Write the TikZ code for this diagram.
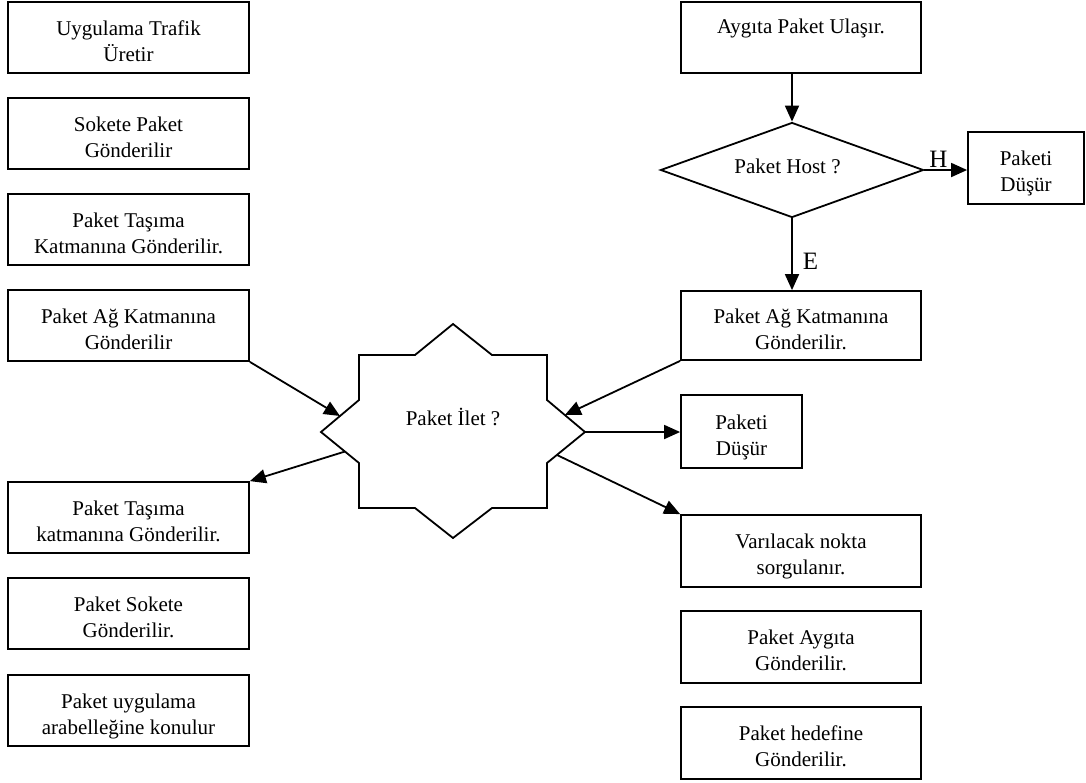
\documentclass[tikz,border=0pt]{standalone}
\usepackage{fontspec}
\setmainfont{Liberation Serif}
\usetikzlibrary{arrows.meta,shapes.geometric,calc}

\begin{document}
\begin{tikzpicture}[x=1pt,y=-1pt,
  every node/.style={font=\fontsize{21}{26}\selectfont},
  % two-line labels: box height fixed so the last baseline sits 23.5pt below centre
  box/.style={draw, line width=1.8pt, align=center, inner sep=0pt,
              text height=47pt, text depth=0pt,
              minimum width=241pt, minimum height=71pt},
  oneline/.style={text height=15pt, text depth=24pt},
  conn/.style={line width=1.8pt, -{Triangle[length=16pt,width=14pt]}},
  lbl/.style={font=\fontsize{25}{28}\selectfont, inner sep=0pt}]

\useasboundingbox (0,0) rectangle (1086,782);

% sending side (left column)
\node[box] (l1) at (128.5,37.5)  {Uygulama Trafik\\Üretir};
\node[box] (l2) at (128.5,133.5) {Sokete Paket\\Gönderilir};
\node[box] (l3) at (128.5,229.5) {Paket Taşıma\\Katmanına Gönderilir.};
\node[box] (l4) at (128.5,325.5) {Paket Ağ Katmanına\\Gönderilir};
\node[box] (l5) at (128.5,517.5) {Paket Taşıma\\katmanına Gönderilir.};
\node[box] (l6) at (128.5,613.5) {Paket Sokete\\Gönderilir.};
\node[box] (l7) at (128.5,710.5) {Paket uygulama\\arabelleğine konulur};

% receiving side (right column)
\node[box, oneline, minimum width=240pt] (r0) at (801,37.5) {Aygıta Paket Ulaşır.};
\node[draw, diamond, line width=1.8pt, shape aspect=2.77, inner sep=0pt,
      minimum width=263pt, minimum height=95pt] (dia) at (792,170) {};
\node (host) at (787.5,166) {Paket Host ?};
\node[box, minimum width=116pt, minimum height=72pt] (d1) at (1026,168) {Paketi\\Düşür};
\node[box, minimum width=240pt, minimum height=69pt] (r3) at (801,325.5) {Paket Ağ Katmanına\\Gönderilir.};
\node[box, minimum width=121pt, minimum height=73pt] (d2) at (741.5,431.5) {Paketi\\Düşür};
\node[box, minimum width=240pt, minimum height=72pt] (r4) at (801,551) {Varılacak nokta\\sorgulanır.};
\node[box, minimum width=240pt, minimum height=72pt] (r5) at (801,647) {Paket Aygıta\\Gönderilir.};
\node[box, minimum width=240pt, minimum height=72pt] (r6) at (801,743) {Paket hedefine\\Gönderilir.};

% eight-pointed star for the forwarding decision
\coordinate (sT)  at (453,324);
\coordinate (sTR) at (492,355);
\coordinate (cNE) at (547,355);
\coordinate (sRU) at (547,400);
\coordinate (sR)  at (585,432);
\coordinate (sRD) at (547,463);
\coordinate (cSE) at (547,508);
\coordinate (sBR) at (492,508);
\coordinate (sB)  at (453,538);
\coordinate (sBL) at (415,508);
\coordinate (cSW) at (359,508);
\coordinate (sLD) at (359,463);
\coordinate (sL)  at (321,432);
\coordinate (sLU) at (359,400);
\coordinate (cNW) at (359,355);
\coordinate (sTL) at (415,355);
\draw[line width=1.8pt, line join=miter]
  (sT) -- (sTR) -- (cNE) -- (sRU) -- (sR) -- (sRD) -- (cSE) -- (sBR) --
  (sB) -- (sBL) -- (cSW) -- (sLD) -- (sL) -- (sLU) -- (cNW) -- (sTL) -- cycle;
\node (ilet) at (453,417) {Paket İlet ?};

% connection points on the star outline
\coordinate (inL)  at ($(sL)!0.5!(sLU)$);
\coordinate (inR)  at ($(sRU)!0.47!(sR)$);
\coordinate (outL) at ($(sLD)!0.37!(sL)$);
\coordinate (outR) at ($(sR)!0.74!(sRD)$);

% connectors
\draw[conn] (r0.south -| dia.north) -- (dia.north);
\draw[conn] (dia.east) -- (dia.east -| d1.west)
  node[lbl, pos=0.33, above=2pt] {H};
\draw[conn] (dia.south) -- (dia.south |- r3.north)
  node[lbl, pos=0.6, right=10pt] {E};
\draw[conn] (l4.south east) -- (inL);
\draw[conn] (r3.south west) -- (inR);
\draw[conn] (outL) -- (l5.north east);
\draw[conn] (sR) -- (sR -| d2.west);
\draw[conn] (outR) -- (r4.north west);
\end{tikzpicture}
\end{document}
